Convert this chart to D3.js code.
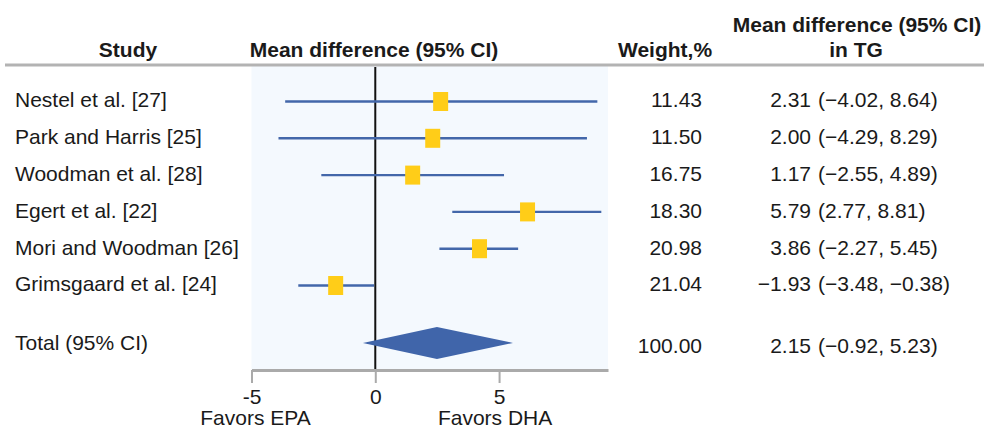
<!DOCTYPE html>
<html>
<head>
<meta charset="utf-8">
<script src="https://cdn.jsdelivr.net/npm/d3@7"></script>
<style>
  html, body { margin: 0; padding: 0; background: #fff; }
  svg { display: block; font-family: "Liberation Sans", Arial, Helvetica, sans-serif; }
</style>
</head>
<body>
<svg id="chart" width="984" height="429"></svg>
<script>
// study labels and table values (as printed)
const studies = ["Nestel et al. [27]", "Park and Harris [25]", "Woodman et al. [28]",
                 "Egert et al. [22]", "Mori and Woodman [26]", "Grimsgaard et al. [24]"];
const weights = [11.43, 11.50, 16.75, 18.30, 20.98, 21.04];
const tableMd = [2.31, 2.00, 1.17, 5.79, 3.86, -1.93];
const tableLo = [-4.02, -4.29, -2.55, 2.77, -2.27, -3.48];
const tableHi = [8.64, 8.29, 4.89, 8.81, 5.45, -0.38];

// positions of the marks as drawn in the figure
const plotMean = [2.64, 2.32, 1.51, 6.15, 4.21, -1.60];
const plotLo = [-3.64, -3.91, -2.18, 3.11, 2.59, -3.11];
const plotHi = [8.97, 8.55, 5.20, 9.13, 5.77, -0.05];

// pooled total
const totalLabel = "Total (95% CI)";
const totalWeight = 100.00;
const totalMd = 2.15, totalLo = -0.92, totalHi = 5.23;
const totalPlot = { mean: 2.49, lo: -0.50, hi: 5.56 };

const xTicks = [-5, 0, 5];

const svg = d3.select("#chart");
const fmt = d3.format(".2f"); // uses the U+2212 minus

const x = d3.scaleLinear().domain([-5, 9.4]).range([251.5, 608]);
const y = d3.scaleLinear().domain([0, 5]).range([101.5, 285.5]);
const yTotal = y(6.56);
const plotTop = 66, plotBottom = 370;

const textColor = "#1a1a1a";
const blue = "#4367aa";
const yellow = "#ffcd18";
const fs = 21;

// plot background
svg.append("rect")
    .attr("x", x(-5)).attr("y", plotTop)
    .attr("width", x(9.4) - x(-5)).attr("height", plotBottom - plotTop)
    .attr("fill", "#f4f9fe");

// header rule
svg.append("line")
    .attr("x1", 5).attr("x2", 984)
    .attr("y1", 65).attr("y2", 65)
    .attr("stroke", "#b3b3b3").attr("stroke-width", 3);

// headers
const headers = [
    { t: "Study", x: 128, y: 57 },
    { t: "Mean difference (95% CI)", x: 374, y: 57 },
    { t: "Weight,%", x: 665, y: 57 },
    { t: "Mean difference (95% CI)", x: 857, y: 32 },
    { t: "in TG", x: 856, y: 57 }
];
svg.selectAll("text.hdr").data(headers).join("text")
    .attr("class", "hdr")
    .attr("x", d => d.x).attr("y", d => d.y)
    .attr("text-anchor", "middle")
    .attr("font-size", fs).attr("font-weight", "bold")
    .attr("fill", textColor)
    .text(d => d.t);

// zero line
svg.append("line")
    .attr("x1", x(0)).attr("x2", x(0))
    .attr("y1", plotTop + 1).attr("y2", plotBottom)
    .attr("stroke", "#111").attr("stroke-width", 2);

// confidence intervals
const idx = d3.range(studies.length);
svg.selectAll("line.ci").data(idx).join("line")
    .attr("class", "ci")
    .attr("x1", i => x(plotLo[i])).attr("x2", i => x(plotHi[i]))
    .attr("y1", i => y(i)).attr("y2", i => y(i))
    .attr("stroke", blue).attr("stroke-width", 2.4);

// point estimates
const sqW = 15, sqH = 19;
svg.selectAll("rect.est").data(idx).join("rect")
    .attr("class", "est")
    .attr("x", i => x(plotMean[i]) - sqW / 2)
    .attr("y", i => y(i) - sqH / 2)
    .attr("width", sqW).attr("height", sqH)
    .attr("fill", yellow);

// pooled diamond
const dh = 16;
svg.append("path")
    .attr("d", `M${x(totalPlot.lo)},${yTotal} L${x(totalPlot.mean)},${yTotal - dh} L${x(totalPlot.hi)},${yTotal} L${x(totalPlot.mean)},${yTotal + dh} Z`)
    .attr("fill", "#4065aa");

// left labels
const rowText = (sel) => sel.attr("font-size", fs).attr("fill", textColor).attr("dy", "0.35em");
svg.selectAll("text.study").data(idx).join("text")
    .attr("class", "study")
    .attr("x", 15).attr("y", i => y(i) - 1.5)
    .call(rowText)
    .text(i => studies[i]);
svg.append("text").attr("x", 15).attr("y", yTotal).call(rowText).text(totalLabel);

// weights
svg.selectAll("text.wt").data(idx).join("text")
    .attr("class", "wt")
    .attr("x", 702).attr("y", i => y(i) - 1.5)
    .attr("text-anchor", "end")
    .call(rowText)
    .text(i => fmt(weights[i]));
svg.append("text").attr("x", 702).attr("y", yTotal + 3).attr("text-anchor", "end")
    .call(rowText).text(fmt(totalWeight));

// mean difference and CI
svg.selectAll("text.md").data(idx).join("text")
    .attr("class", "md")
    .attr("x", 811).attr("y", i => y(i) - 1.5)
    .attr("text-anchor", "end")
    .call(rowText)
    .text(i => fmt(tableMd[i]));
svg.selectAll("text.ci").data(idx).join("text")
    .attr("class", "ci")
    .attr("x", 818).attr("y", i => y(i) - 1.5)
    .call(rowText)
    .text(i => `(${fmt(tableLo[i])}, ${fmt(tableHi[i])})`);
svg.append("text").attr("x", 811).attr("y", yTotal + 3).attr("text-anchor", "end")
    .call(rowText).text(fmt(totalMd));
svg.append("text").attr("x", 818).attr("y", yTotal + 3)
    .call(rowText).text(`(${fmt(totalLo)}, ${fmt(totalHi)})`);

// x axis
const axis = svg.append("g")
    .attr("transform", `translate(0,${plotBottom})`)
    .call(d3.axisBottom(x).tickValues(xTicks).tickSize(13).tickSizeOuter(0)
        .tickPadding(6).tickFormat(d => String(d)));
axis.select(".domain").attr("stroke", "#aaaaaa").attr("stroke-width", 3);
axis.selectAll(".tick line").attr("stroke", "#aaaaaa").attr("stroke-width", 2);
axis.selectAll(".tick text")
    .attr("font-size", fs).attr("fill", textColor)
    .attr("font-family", "Liberation Sans, Arial, sans-serif");

// direction labels
svg.append("text").attr("x", x(-5) + 4).attr("y", 425).attr("text-anchor", "middle")
    .attr("font-size", fs).attr("fill", textColor).text("Favors EPA");
svg.append("text").attr("x", x(5) - 4).attr("y", 425).attr("text-anchor", "middle")
    .attr("font-size", fs).attr("fill", textColor).text("Favors DHA");
</script>
</body>
</html>
